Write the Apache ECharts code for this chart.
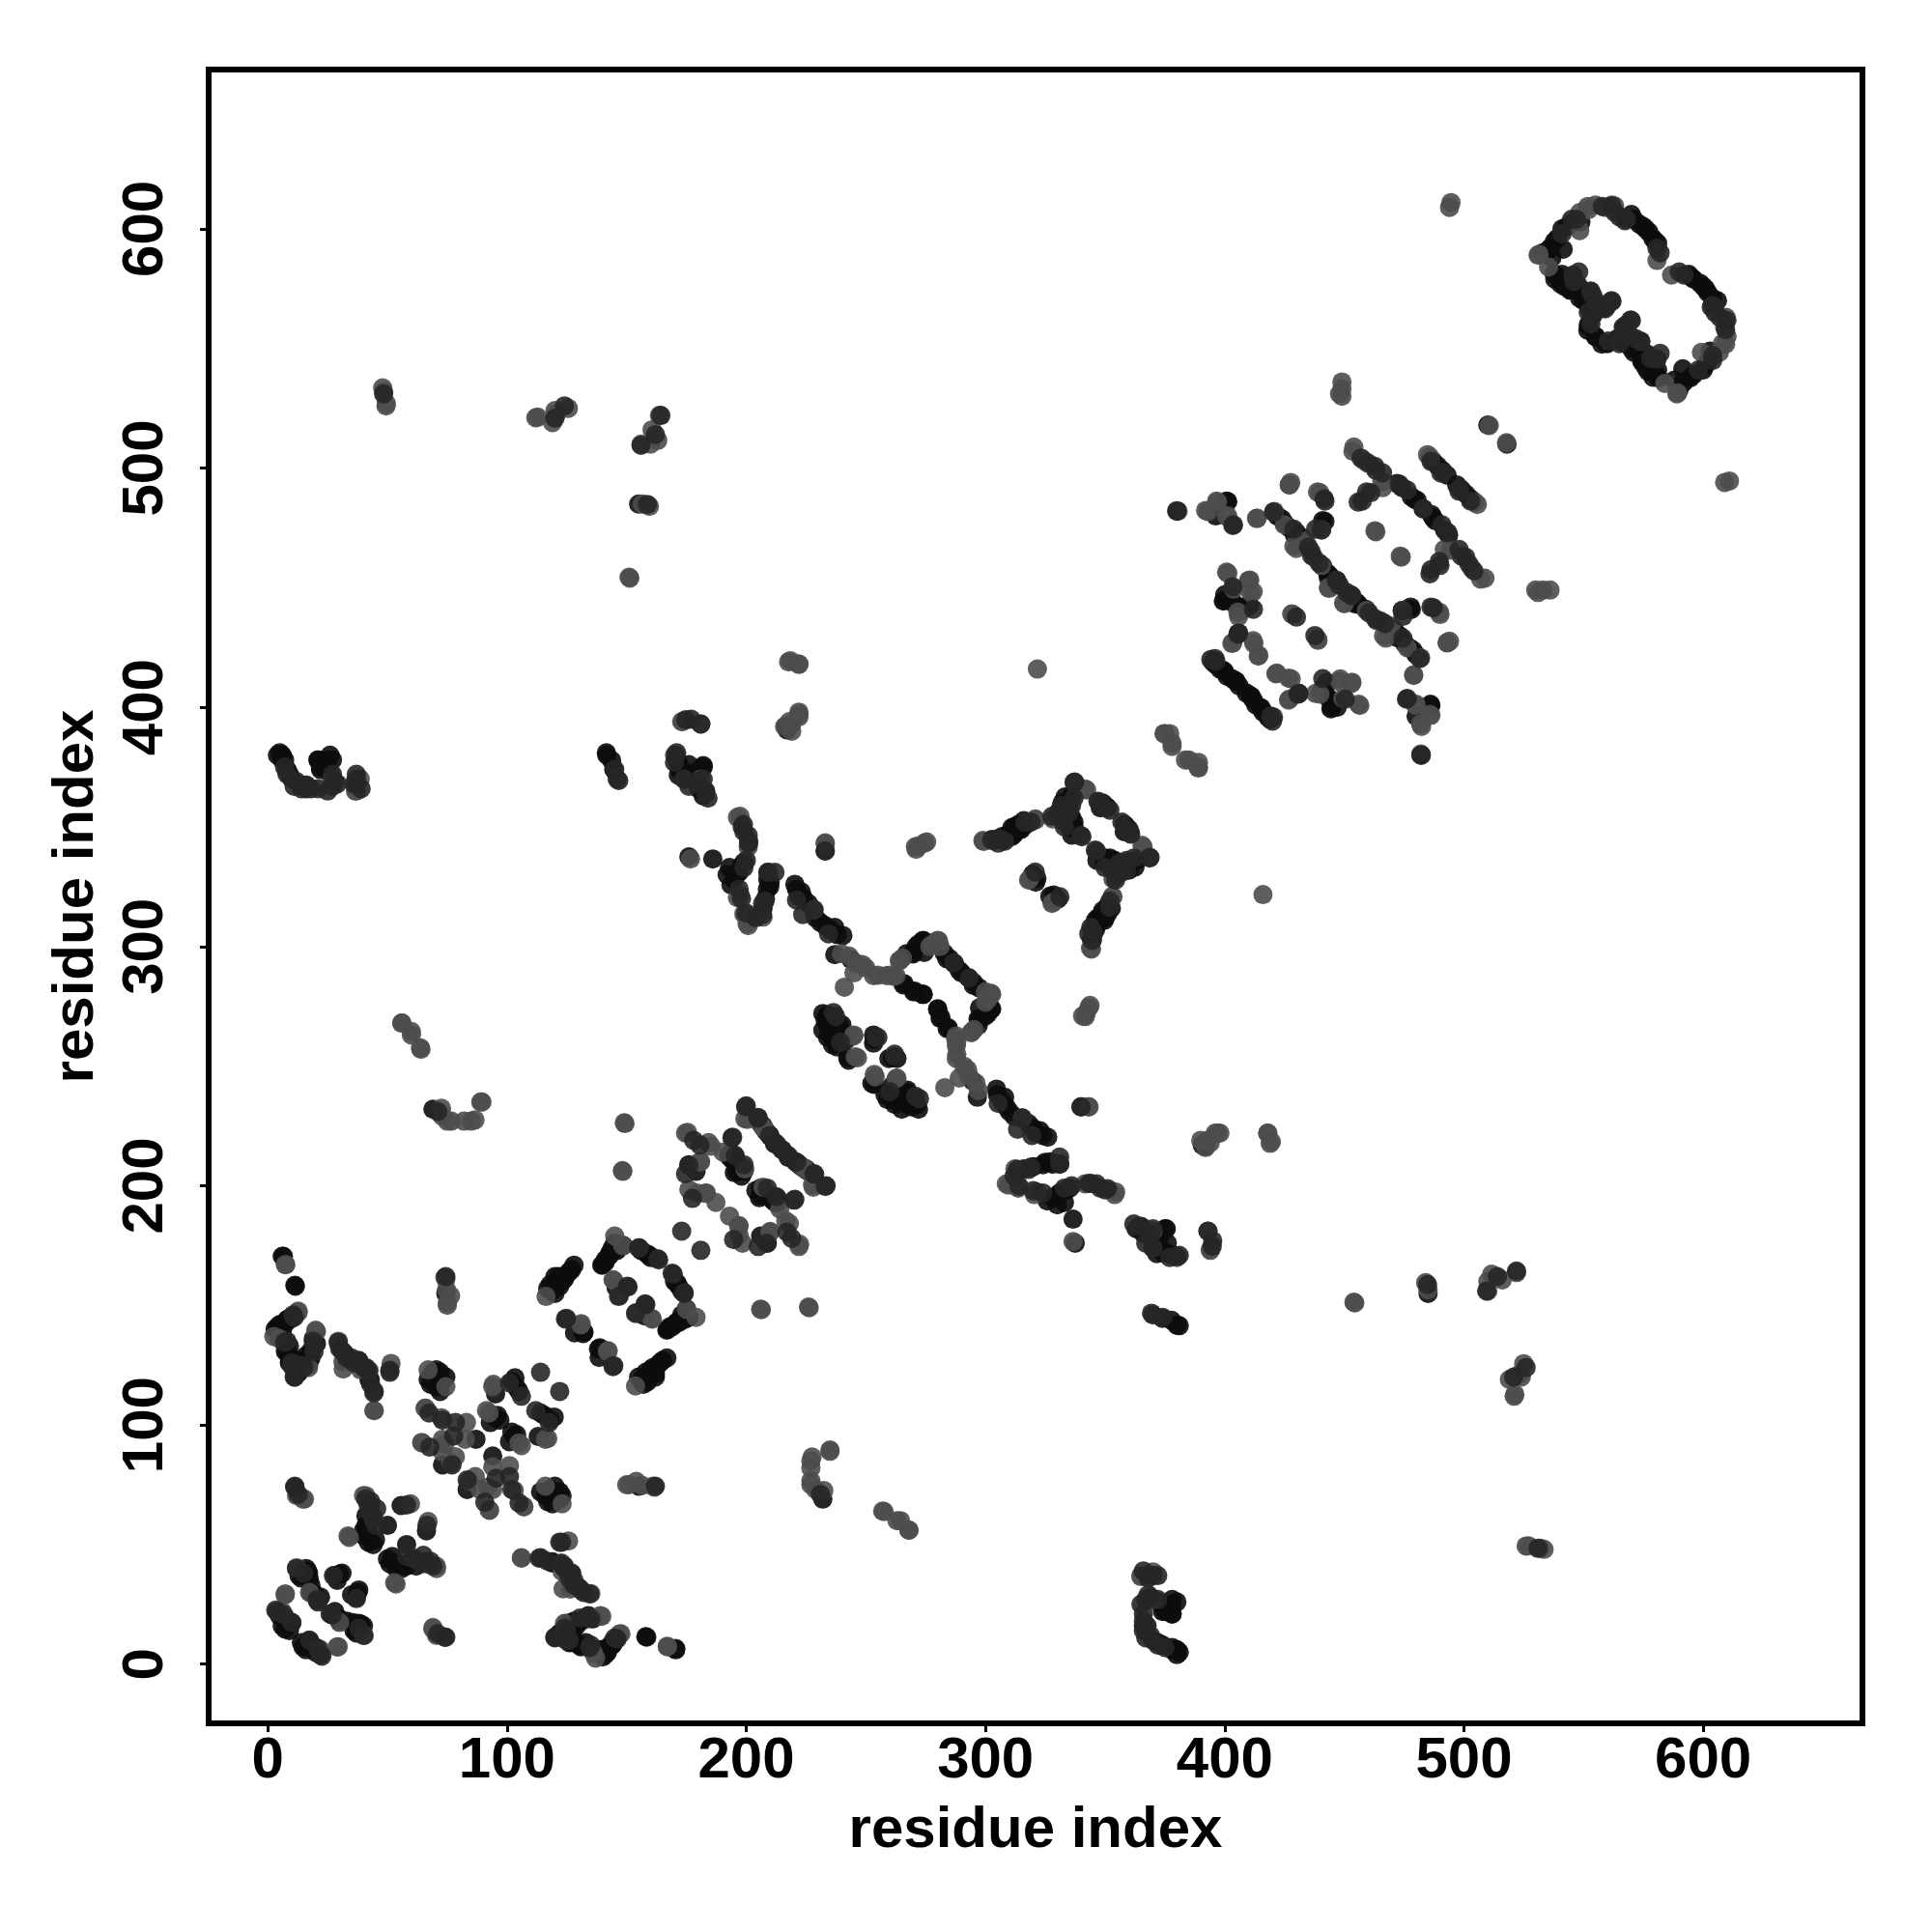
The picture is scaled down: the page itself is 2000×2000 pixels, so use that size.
<!DOCTYPE html>
<html><head><meta charset="utf-8">
<script src="https://cdn.jsdelivr.net/npm/echarts@6/dist/echarts.min.js"></script>
<style>html,body{margin:0;padding:0;background:#fff}#c{width:2000px;height:2000px}</style>
</head><body><div id="c"></div>
<script>
const tickValues = [0,100,200,300,400,500,600];
const axisTitle = "residue index";
// contacts read as residue pairs (i, j); the map shows each pair on both sides of the diagonal
const darkPairs = [
[6.5,170.5],[11.5,158],[8,144],[5,142],[3,140],[6,139],[8,130.5],[9.2,126.5],[17.3,127],[20.3,134],[32,130],[42.8,119],[74.4,155],[70.4,123],[74.4,120],[67,119],[70.4,116],[95.2,113],[103.3,119.7],[104,115.6],[95.2,103],[93,101],[87,94],[73,83.3],[41,58],[50,58],[40,53.7],[44,50],[66.3,55.7],[41.6,55.6],[16.6,39],[17.3,35.6],[19.3,29.5],[30,37.6],[31,38],[7.2,14.7],[20.7,26.7],[16,40],[10,17.3],
[42.3,118.8],[32,129.5],[18,128],[14.7,124],[11.3,120],[7.3,130.8],[4.6,141],[8.6,144.3],[11.3,158.4],[6,170.5],[118,158.7],[128,166.8],[121.4,162],[118.7,156],[143,171],[139.6,166.8],[144.3,172.8],[158.4,171.5],[145.6,157.4],[159.4,171],[148.6,175],[132.2,138.8],[128.2,138.5],[131.8,138.2],
[210,220.6],[211.8,217.6],[192.7,213],[196,210],[198,204],[179,206],[176,208.8],[195,205.5],[195,212.9],
[233.7,271],[239,267],[241.8,261],[242.4,253.5],[253.2,263],[253.2,259.6],[253.5,261.2],[242.8,252.5],[240,267.3],[234,271.4],[235.4,262.6],
[220.3,326],[223,322.8],[233,308.7],[237,308],[240.4,304.6],[237,296.6],[243.8,294.6],[266,284.5],[270,281],[274,280],[273.7,280],[270.3,281.4],[265.6,284],
[269.3,297.2],[274,302.6],[282.8,297.2],[287,292.8],[283.8,294.9],[273.7,302.3],[274.4,297.5],[269.7,296.9],
[209,331],[209.8,325],[206.4,313.7],[195,329.8],[199,335.2],[193.6,325.8],[198,333.6],[196,330],[208.8,324],
[303,344.3],[309.6,347],[313.7,351],[311,349.7],[333.2,362.5],[350.6,358.5],[335.2,349.7],[358,351],[336.3,363.4],[335.6,350],[336,346.6],[316,352.6],[313.4,348.6],[309.4,346],[302.6,344.6],[319.7,330.2],[321,326.9],[321.5,328.5],[233,339.9],[216.5,392],
[401.3,486],[396.3,480],[440.9,478],[423.9,478.7],[443,456],[443.3,454.3],[429.2,472],[472,493.6],[480.5,486.5],[479.4,486.9],[441.9,477.7],[400.8,486.2],[399.9,444.7],[404,443.3],[410.5,442.6],[399.9,415],[404.8,410.8],[404.4,411.2],[399.4,415.4],[405.8,431],[409.3,442.3],[399.4,444.4],
[535,591],[537.7,594.6],[544.4,602],[570,606],[573.3,602],[577.3,598.7],[537.7,581.2],[540.4,577],[544.4,574.4],[548.4,571],[552.5,566.4],[551.8,557.6],[552.2,559.2],[551.6,570],[544.8,574.6],[539.5,580],[580,594.8],[536.8,588],[541.5,591.5],[548.9,602.9],
[5,381],[6,380],[8,374],[21,378],[16,366],[141.5,381],[144.6,374],[172,375.6],[182,375.6],[176,337.5],[380,5.7],[370,10],[378,21],[378,25],[380,141.7],[377.8,143.7],[336.6,186],[371.6,171.6],[365,183],[375,182],[390.6,217],[510,518],[69,232],[27,378],[485,155],
[120,159],[123,160],[125,163],[127,165],[117,157],[120,155],[122,158],[124,161],[126,164],[120,162],[140,167],[141,168],[142,170],[143,172],[144,174],[145,176],[141,169],[146,173],[156,173],[160,170],
[193,212],[194,211],[197,208],[199,206],[196,206],[197,207],[206,226],[207,225],[208,223],[209,222],
[232,272],[233,269],[234,267],[236,270],[238,266],[240,263],[237,264],[232,265],[234,262],[236,259],[238,258],
[221,324],[222,321],[224,320],[226,318],[229,312],[231,310],[235,307],[238,305],[267,297],[271,300],[272,301],[285,295],[289,290],
[305,345],[307,346],[312,350],[314,349],[332,360],[334,358],[335,355],[336,352],[348,358],[349,360],[350,337],[352,337],[354,336],[346,311],[347,312],[349,315],[351,317],
[193,333],[192,330],[195,328],[197,331],[207,316],[208,320],[209,328],[210,327],
[422,480],[425,477],[427,475],[430,473],[432,471],[441,459],[444,455],[474,492],[478,488],[487,503],[489,501],[491,499],[493,497],
[396,418],[398,416],[401,413],[403,412],[406,409],[395,419],[400,447],[402,445],[406,442],[408,441],
[533,590],[536,592],[539,596],[541,600],[543,601],[571,604],[575,601],[576,600],[579,596],[581,594],[538,579],[542,576],[550,570],[552,568],[554,564],[555,555],[560,552],[568,554],[572,550],[576,548],[578,544],[581,541],
[4,141],[7,142],[9,144],[6,137],[9,133],[9,128],[13,127],[16,129],[18,131],[19,136],[69,122],[72,122],[72,114],[68,117],[73,118],[41,62],[40,56],[42,55],[42,51],[45,52],[102,118],[105,114],[96,104],[97,102],[5,20],[8,18],[6,16],[9,14],[18,33],[18,30],[22,28],[28,37],[29,35],[17,9],[18,8],[20,7],[36,14],[38,17],[37,13],[128,10],[134,7],[142,6],[145,10],[125,17],[130,18],[122,13],[126,9],[7,378],[9,372],[22,374],[24,376],[171,378],[173,374],[175,372],[177,370],[179,373],[180,366],[372,26],[375,22],[380,26],[380,4],[378,6],[363,182],[368,180],[372,178],[376,176],[374,172]
];
const midPairs = [
[10.5,146],[7,134.5],[11,120],[14,125],[19.3,130.5],[29.4,134.5],[38,127],[42,122.4],[44.5,114],[51,122],[101,117.6],[106,112],[67.4,105],[73,102],[78.4,101],[67.7,90.7],[77.7,95.4],[77,83.3],[114,122],[11.2,74],[43,68],[45.5,65],[45,58],[58,66.5],[3.8,22],[6.5,20.8],[10,17.4],[12,40],[27.4,37],[20.6,27],[22.6,3.3],[71,12.7],[74.4,11.3],
[44.3,113.4],[51,122.8],[38,126.8],[19.4,133.5],[10,124.8],[155,174],[163,169.5],[150.3,158],[163.4,169],[155.3,174],[150.6,157.7],[146.6,153.7],[124.8,144.6],[124.4,144.3],[173,181],
[178,219],[180.6,217],[194,220],[200,233.4],[204.8,228.6],[212.2,217.9],[221,209.8],[228.3,205],[233,199.7],[195.4,212.5],[176,208.5],[174.6,205],[194.7,177.5],[199,208.8],[194.3,220.3],
[236.4,272.4],[237.4,270.7],[228.3,315.4],[221,319.4],[223.6,313.4],[234.4,305.3],[239.4,260],
[286.8,293.2],[212,331],[207.8,319],[201,343.2],[198.3,350],[198.8,351],[200.8,346.4],[200,336],[206.8,313.4],[209.2,331],[206.8,318],[204,312],
[307,344.3],[316.4,351.8],[327.8,354.4],[331.8,359],[337,368.6],[347.3,360.5],[339.9,346.4],[332.5,352.4],[347,360.7],[337.3,368.8],[340.3,345.9],[335,358],[343.2,305.3],[344.6,302.6],[320.8,331.1],[370,146],
[420.4,481.6],[428.9,474.5],[436,465.3],[439.5,460.3],[446.6,453.2],[452.9,446.9],[438,474.5],[441.6,487.2],[403.4,476],[486.2,502.8],[490.4,497.9],[491.5,498.2],[457,504.2],[462.8,500.7],[459.3,490],[455.8,485.8],[476.3,490.8],[473,493.3],[457.5,486.2],[461,489.7],[463.2,499],
[403.4,450.4],[405.5,430.6],[394.2,420],[396.3,419.2],[395.9,420.4],[405.8,431],[437.7,430],[440.5,474.2],[441.9,486.2],[403.7,476.3],[380,482.2],[380,482],
[541,598],[557.9,609.4],[567.3,603.4],[592,580.7],[545.8,580.5],[553,573.8],[553.1,560.3],[558.5,567],[561.9,569.7],[566.6,559],[570,561.7],[574,553],[580.7,545.5],[561.7,609.6],
[146.7,369.4],[183,364],[179.6,369],[28,369],[340,233],[145,374],[370,37],[365,25],[375,7],[231,71],[16,367.5],[74.4,162],[380,170.5],[394.8,174.7],[181,393],[177,395],[170.9,381],[484.8,158.7],[520.8,120],[526,124],[531,48.4],[514,162],[522,164.3],[509.5,156],
[30,132],[33,128],[36,126],[40,124],[43,117],[41,69],[42,66],[43,63],[44,61],[15,38],[21,26],[12,369],[14,366],[18,366],[27,372],[29,368],[37,368],[39,366],[174,370],[182,370],[184,362],[135,19],[124,41],[128,35],[131,31],
[213,217],[215,215],[254,262],[255,262],[330,355],[331,357],[333,350],[357,352],[359,349],[356,335],[359,336],[362,337],[352,319],[344,308],[345,306],[199,348],[201,344],[199,333],[197,324],[198,320],[200,314],[435,467],[437,463],[448,451],[483,483],[460,502],[466,498],[412,441],[545,604],[547,604],[563,607],[565,605],[568,604],[582,590],[546,578],[554,572],[556,569],[560,568],[565,552],[582,548],[11,145],[8,135],[10,126],[12,123],[15,124],[367,27],[372,37],[368,36],[366,21],[367,11],[372,8],[367,176],[370,174],[377,170]
];
const greyPairs = [
[7.5,167],[12.6,147],[2.5,137],[10.5,124],[17,124],[20.3,139],[31.4,126.4],[38.8,123],[44.5,106],[51.5,125.7],[74.4,161],[76.4,154],[75,150],[67,123],[74.4,116],[94.3,117],[92.5,105],[94,116],[91.4,106],[65.7,107],[83,101],[64.3,92.7],[73,94],[73,88.7],[78.4,86.7],[82.5,94],[74,92],[64.5,92.5],[66,107],[72.6,103],[76.6,84],[15.3,69],[12,70.5],[40,70.5],[34,53],[59.6,67],[33.5,53.6],[41,70.4],[43,66.3],[44.3,61],[12,40.3],[7.2,29],[17.4,30],[6,22],[7.3,29.4],[14.7,69],
[44.3,106],[42.3,122.8],[31.5,123.4],[29.5,135],[20,139.6],[4.6,136.2],[12.7,147.6],[7.3,167],[145,179],[148.3,175],[144.3,160.7],[147,154],[144.6,160.4],[116.3,153.7],[130.8,141.9],[131,142.3],
[149.3,226],[148.4,206],[174.6,222],[185.3,216.5],[199.4,228],[206.8,224.6],[223.6,207.8],[227.7,200.4],[199.4,207],[180.6,210],[176,198.4],[179.3,197],[183.3,197],[187.3,193],[183,196.8],[210,180.9],[190.3,214],[184.2,218],[175.5,222.3],[206.3,148.2],[226.3,149],
[245,263],[246.5,253.5],[245.5,253.9],[244.8,262.6],[233,343],[270.7,341.7],[275.4,343.7],[272,342],[228.3,315.4],[239.8,297],[241,283],[248.5,292.5],[245,289],[253.2,287.8],[258.6,287.8],[264,294],[262.6,287.8],[261.6,287.5],[280,302.6],[265.3,295.2],[276.7,300],[280.4,302.3],[264.2,294.2],
[312.3,207],[309.6,200.3],[313.7,199],[320.4,196.3],[354,196.3],[197.4,354.4],[200.8,341.6],[197.4,321.5],[199.4,313.4],[200.8,308.7],
[298.9,344.3],[321,353],[341.6,365.9],[365.4,342.3],[355.4,330.9],[353.3,328.2],[353.3,320.8],[343.9,299.3],[318.4,328.2],[318,327.8],[274.4,343.2],[271,340.6],[233,343.3],[219,393],[396,222],[377,389],[375,389],[378,385],[378,383.6],[374.6,389],
[392,482.3],[397,485.8],[401.3,480],[413.3,479],[427,493],[438.8,490],[428.9,467.4],[433.8,469.5],[449.7,443.7],[443.3,450],[440.5,459.3],[436.2,463.5],[433.4,467.8],[429.9,466.4],[424.9,476.3],[420.7,481.9],[413.6,479],[473.8,462.8],[463.2,473.4],[484.8,505.6],[485.8,504.6],[453.6,507],[494.3,465.7],[466,491.8],[458.2,503.2],[454,508.8],
[401.3,456],[410.5,453.2],[411.9,448.3],[405.5,439.8],[403.4,427],[411.9,427.8],[414,421.4],[421.8,414.3],[426.7,412.2],[403,426.7],[405.8,438],[410.8,448],[410,453],[400.8,456.5],[403.7,449.4],[428,439],[428.5,438.8],[440.5,474.2],[439.8,489.7],[427,493],[400.8,479.8],[396.6,486.2],[393,481.9],
[531,589],[548.4,599.3],[548.4,606.8],[551.8,609.4],[561.9,610],[563,609.6],[586.8,580.7],[531.4,589.4],[535.4,584],
[48.4,532],[49.4,526],[48,533.5],[112,521],[119,519],[125.6,525],[121,523],[163.7,522],[160.6,516],[156,510],[163,511.6],[156.5,485],[159.5,484],[151.3,454],[217.7,419],[222,418],[216,392],[222,398],[218,394],
[38.6,370],[37,365],[56,268],[60,263],[63.8,257.6],[72.6,232.4],[76.7,227],[85,227],[82,227],[89.5,235],[173.4,394],[173,394],[321.7,416],[397,222],[390,219],[418,222],[419.5,218.4],[336.6,176.7],[370,181],[380,170],[393,181],[454.4,151],[510,160],[521.3,112.8],[524,120],[527,49.5],[365,36.6],[370,27],[367.5,16],[227.5,86.6],[235,89],[227,75],[229,73],[257,64],[264.5,60],[268,56],[161.6,74],[156.5,74.7],[151,75],[449,530],[449,533],[449,536],[448,531],[611,494.6],[609,494],[517.8,510.6],[494,427.6],[482,380.5],
[243,296],[246,293],[250,291],[255,288],[260,288],[278,301],[281,300],[552,608],[555,610],[559,609]
];
const shades = [
  {pairs: darkPairs, color: "#0c0c0c"},
  {pairs: greyPairs, color: "#4d4d4d"},
  {pairs: midPairs,  color: "#262626"}
];
const bothSides = pairs => pairs.flatMap(([i,j]) => [[i,j],[j,i]]);
const font = "'Liberation Sans', Arial, sans-serif";
const axis = (rotate, nameGap, margin) => ({
  type: "value", min: -24.75, max: 666.6,
  name: axisTitle, nameLocation: "middle", nameGap,
  nameTextStyle: {fontFamily: font, fontWeight: "bold", fontSize: 60, color: "#000"},
  splitLine: {show: false},
  axisLine: {show: false, onZero: false},
  axisTick: {show: true, length: 9, lineStyle: {color: "#000", width: 3}, customValues: tickValues},
  axisLabel: {fontFamily: font, fontWeight: "bold", fontSize: 60, color: "#000", rotate, margin, customValues: tickValues}
});
const chart = echarts.init(document.getElementById("c"), null, {renderer: "canvas"});
chart.setOption({
  animation: false,
  backgroundColor: "#fff",
  grid: {show: true, left: 216, top: 72, width: 1712, height: 1712, borderColor: "#000", borderWidth: 6, backgroundColor: "transparent"},
  xAxis: axis(0, 81, 9),
  yAxis: axis(90, 107, 35),
  series: shades.map(s => ({
    type: "scatter", symbol: "circle", symbolSize: 20, clip: true,
    itemStyle: {color: s.color, opacity: 0.9},
    data: bothSides(s.pairs)
  }))
});
</script></body></html>
